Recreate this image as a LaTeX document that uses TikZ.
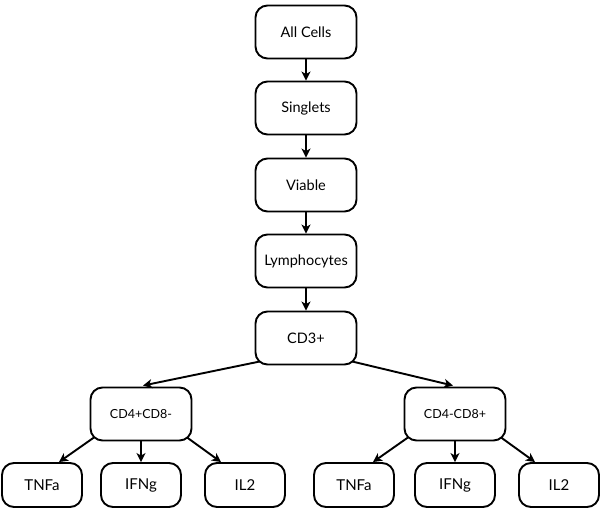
\documentclass[tikz,border=0pt]{standalone}
\usepackage{fontspec}
\setmainfont{Lato}
\usetikzlibrary{arrows.meta,calc}
\begin{document}
\begin{tikzpicture}[x=1pt,y=-1pt,
  box/.style={draw, line width=1.9pt, rounded corners=12pt, inner sep=0pt,
    minimum width=101pt, minimum height=53pt, font=\fontsize{14.5}{16}\selectfont},
  midbox/.style={box, font=\fontsize{12.5}{14}\selectfont},
  leaf/.style={box, minimum width=80pt, minimum height=44pt, font=\fontsize{15}{17}\selectfont},
  arr/.style={line width=1.9pt, -{Stealth[length=9pt,width=9pt,inset=2.5pt]}}]
\useasboundingbox (0,0) rectangle (602,512);
\node[box] (all) at (306,32) {All Cells};
\node[box] (sing) at (306,108) {Singlets};
\node[box] (via) at (306,185) {Viable};
\node[box] (lym) at (306,261) {Lymphocytes};
\node[box] (cd3) at (306,338) {CD3+};
\node[midbox] (cd4) at (141,414) {CD4+CD8-};
\node[midbox] (cd8) at (455,414) {CD4-CD8+};
\node[leaf] (t1) at (42,485) {TNFa};
\node[leaf] (i1) at (141,485) {IFNg};
\node[leaf] (l1) at (245,485) {IL2};
\node[leaf] (t2) at (354,485) {TNFa};
\node[leaf] (i2) at (455,485) {IFNg};
\node[leaf] (l2) at (559,485) {IL2};
\draw[arr] (all) -- (sing);
\draw[arr] (sing) -- (via);
\draw[arr] (via) -- (lym);
\draw[arr] (lym) -- (cd3);
\draw[arr] ($(cd3.south)+(-46,-4)$) -- ($(cd4.north)+(2,-1)$);
\draw[arr] ($(cd3.south)+(46,-4)$) -- ($(cd8.north)+(-2,-1)$);
\foreach \p/\a/\b/\c in {cd4/t1/i1/l1, cd8/t2/i2/l2}{
  \draw[arr] ($(\p.south)+(-47,-4)$) -- ($(\a.north -| \p.south)+(-82,0)$);
  \draw[arr] (\p) -- (\b);
  \draw[arr] ($(\p.south)+(46,-4)$) -- ($(\c.north -| \p.south)+(80,0)$);
}
\end{tikzpicture}
\end{document}
